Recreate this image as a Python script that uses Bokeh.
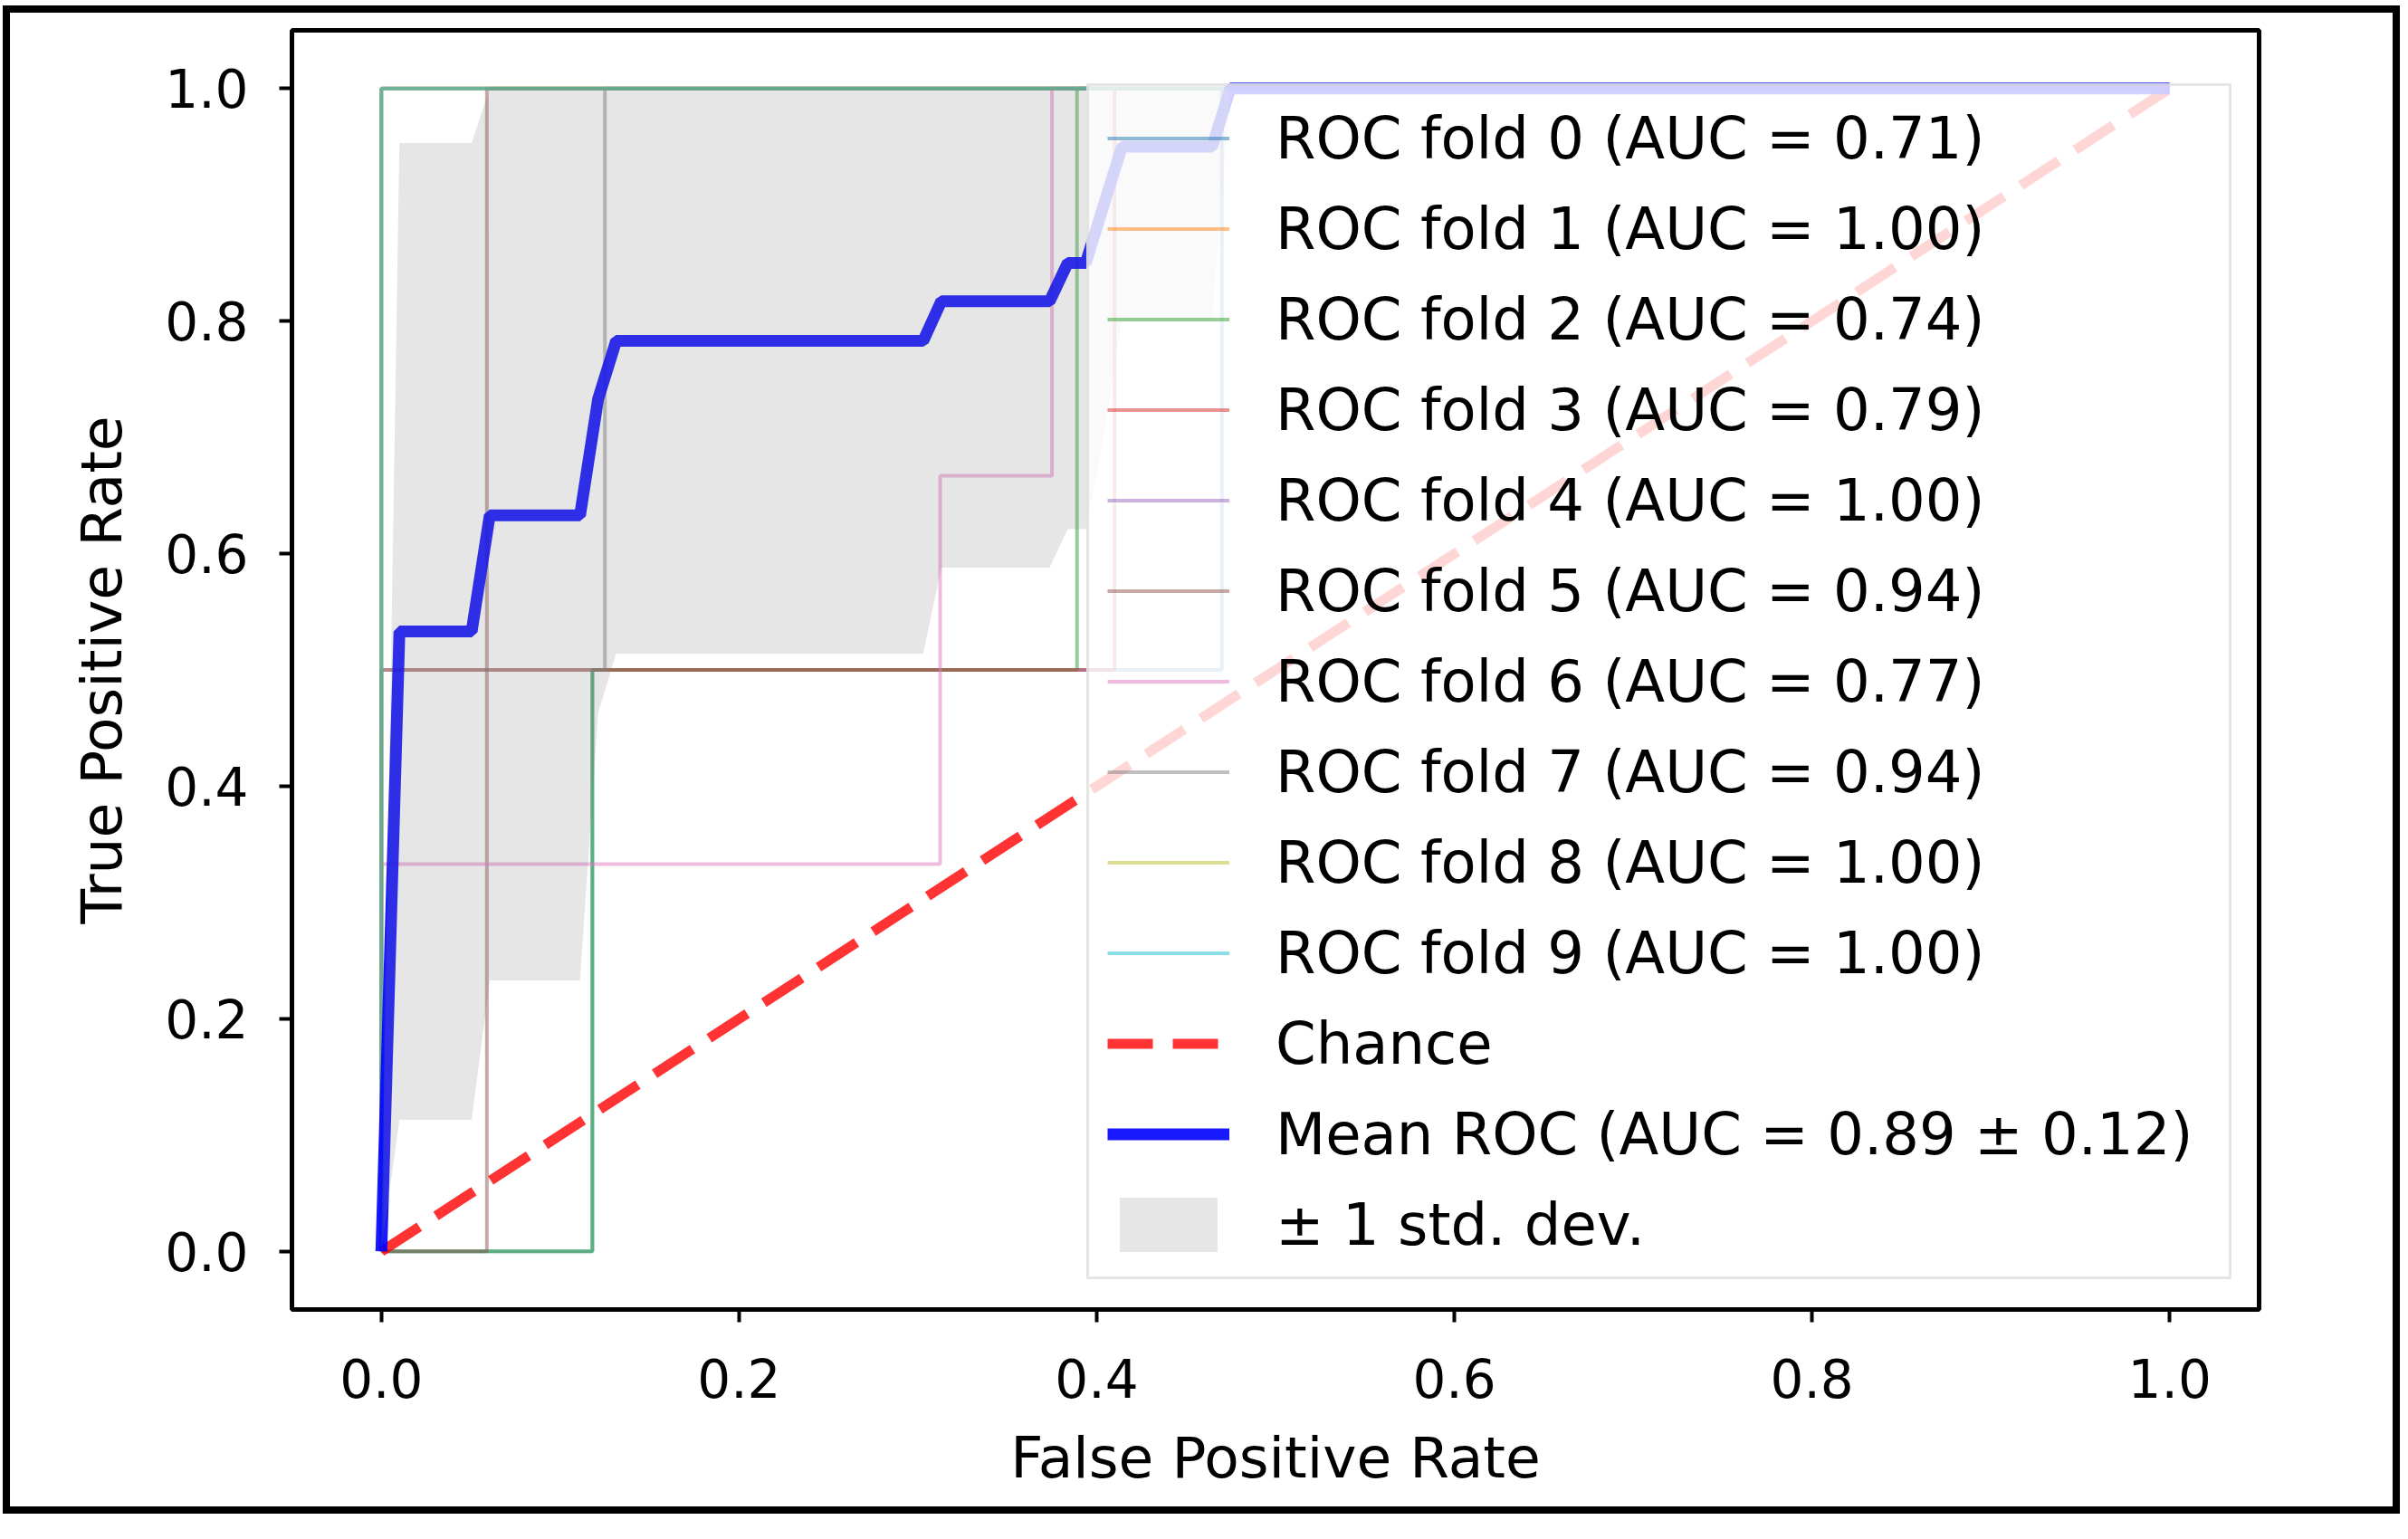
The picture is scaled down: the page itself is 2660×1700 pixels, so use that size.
from bokeh.plotting import figure
from bokeh.models import Legend, LegendItem, FixedTicker, NumeralTickFormatter, Range1d
from bokeh.embed import file_html
from bokeh.resources import INLINE

# ---- data ----
fold_labels = [f"ROC fold {i}" for i in range(10)]
fold_auc = [0.71, 1.00, 0.74, 0.79, 1.00, 0.94, 0.77, 0.94, 1.00, 1.00]

fold_fpr = [
    [0.0, 0.118, 0.118, 0.470, 0.470, 1.0],
    [0.0, 0.0, 1.0],
    [0.0, 0.118, 0.118, 0.389, 0.389, 1.0],
    [0.0, 0.0, 0.410, 0.410, 1.0],
    [0.0, 0.0, 1.0],
    [0.0, 0.059, 0.059, 1.0],
    [0.0, 0.0, 0.3125, 0.3125, 0.375, 0.375, 1.0],
    [0.0, 0.0, 0.125, 0.125, 1.0],
    [0.0, 0.0, 1.0],
    [0.0, 0.0, 1.0],
]
fold_tpr = [
    [0.0, 0.0, 0.5, 0.5, 1.0, 1.0],
    [0.0, 1.0, 1.0],
    [0.0, 0.0, 0.5, 0.5, 1.0, 1.0],
    [0.0, 0.5, 0.5, 1.0, 1.0],
    [0.0, 1.0, 1.0],
    [0.0, 0.0, 1.0, 1.0],
    [0.0, 0.333, 0.333, 0.667, 0.667, 1.0, 1.0],
    [0.0, 0.5, 0.5, 1.0, 1.0],
    [0.0, 1.0, 1.0],
    [0.0, 1.0, 1.0],
]

chance_x = [0.0, 1.0]
chance_y = [0.0, 1.0]

mean_fpr = [0.0, 0.0101, 0.0505, 0.0606, 0.1111, 0.1212, 0.1313, 0.3030, 0.3131,
            0.3737, 0.3838, 0.3939, 0.4040, 0.4141, 0.4646, 0.4747, 1.0]
mean_tpr = [0.0, 0.533, 0.533, 0.633, 0.633, 0.733, 0.783, 0.783, 0.817,
            0.817, 0.850, 0.850, 0.900, 0.950, 0.950, 1.0, 1.0]
std_lower = [0.0, 0.113, 0.113, 0.233, 0.233, 0.463, 0.514, 0.514, 0.588,
             0.588, 0.621, 0.621, 0.700, 0.800, 0.800, 1.0, 1.0]
std_upper = [0.0, 0.953, 0.953, 1.0, 1.0, 1.0, 1.0, 1.0, 1.0,
             1.0, 1.0, 1.0, 1.0, 1.0, 1.0, 1.0, 1.0]
mean_auc = 0.89
std_auc = 0.12

x_ticks = [0.0, 0.2, 0.4, 0.6, 0.8, 1.0]
y_ticks = [0.0, 0.2, 0.4, 0.6, 0.8, 1.0]

# ---- styles ----
fold_colors = ["#1f77b4", "#ff7f0e", "#2ca02c", "#d62728", "#9467bd",
               "#8c564b", "#e377c2", "#7f7f7f", "#bcbd22", "#17becf"]
FONT = "DejaVu Sans"

p = figure(width=2648, height=1666,
           x_range=Range1d(-0.05, 1.05), y_range=Range1d(-0.05, 1.05),
           output_backend="svg", toolbar_location=None,
           min_border_left=311, min_border_right=164,
           min_border_top=19, min_border_bottom=234,
           x_axis_label="False Positive Rate", y_axis_label="True Positive Rate")
p.styles = {"border": "8px solid black", "margin-top": "6px", "margin-left": "3px"}

p.xgrid.visible = False
p.ygrid.visible = False
p.outline_line_color = "black"
p.outline_line_width = 5
p.outline_line_alpha = 1.0
p.background_fill_color = "white"

p.xaxis.ticker = FixedTicker(ticks=x_ticks)
p.yaxis.ticker = FixedTicker(ticks=y_ticks)
for ax in p.axis:
    ax.formatter = NumeralTickFormatter(format="0.0")
    ax.axis_line_color = None
    ax.major_tick_out = 14
    ax.major_tick_in = 0
    ax.major_tick_line_width = 4
    ax.major_tick_line_color = "black"
    ax.minor_tick_line_color = None
    ax.major_label_text_font = FONT
    ax.major_label_text_font_size = "58px"
    ax.major_label_text_color = "black"
    ax.axis_label_text_font = FONT
    ax.axis_label_text_font_size = "63px"
    ax.axis_label_text_font_style = "normal"
    ax.axis_label_text_color = "black"
p.xaxis.major_label_standoff = 40
p.yaxis.major_label_standoff = 34
p.xaxis.axis_label_standoff = 27
p.yaxis.axis_label_standoff = 30

items = []
for i in range(10):
    r = p.line(fold_fpr[i], fold_tpr[i], line_color=fold_colors[i],
               line_width=4, line_alpha=0.5)
    items.append(LegendItem(label=f"{fold_labels[i]} (AUC = {fold_auc[i]:.2f})",
                            renderers=[r]))

rc = p.line(chance_x, chance_y, line_color="red", line_width=11,
            line_alpha=0.8, line_dash="50 22")
items.append(LegendItem(label="Chance", renderers=[rc]))

rm = p.line(mean_fpr, mean_tpr, line_color="blue", line_width=13, line_alpha=0.9)
items.append(LegendItem(label=f"Mean ROC (AUC = {mean_auc:.2f} \u00b1 {std_auc:.2f})",
                        renderers=[rm]))

rb = p.varea(x=mean_fpr, y1=std_lower, y2=std_upper, fill_color="grey", fill_alpha=0.2)
items.append(LegendItem(label="\u00b1 1 std. dev.", renderers=[rb]))

legend = Legend(items=items, location=(878, 33), margin=0,
                label_text_font=FONT, label_text_font_size="64px",
                label_text_color="black",
                label_height=75, glyph_height=75, glyph_width=135,
                label_standoff=51, spacing=25, padding=20, label_width=1033,
                border_line_color="#cccccc", border_line_width=3,
                background_fill_color="white", background_fill_alpha=0.8)
p.add_layout(legend)

open("out.html", "w").write(file_html(p, INLINE))
